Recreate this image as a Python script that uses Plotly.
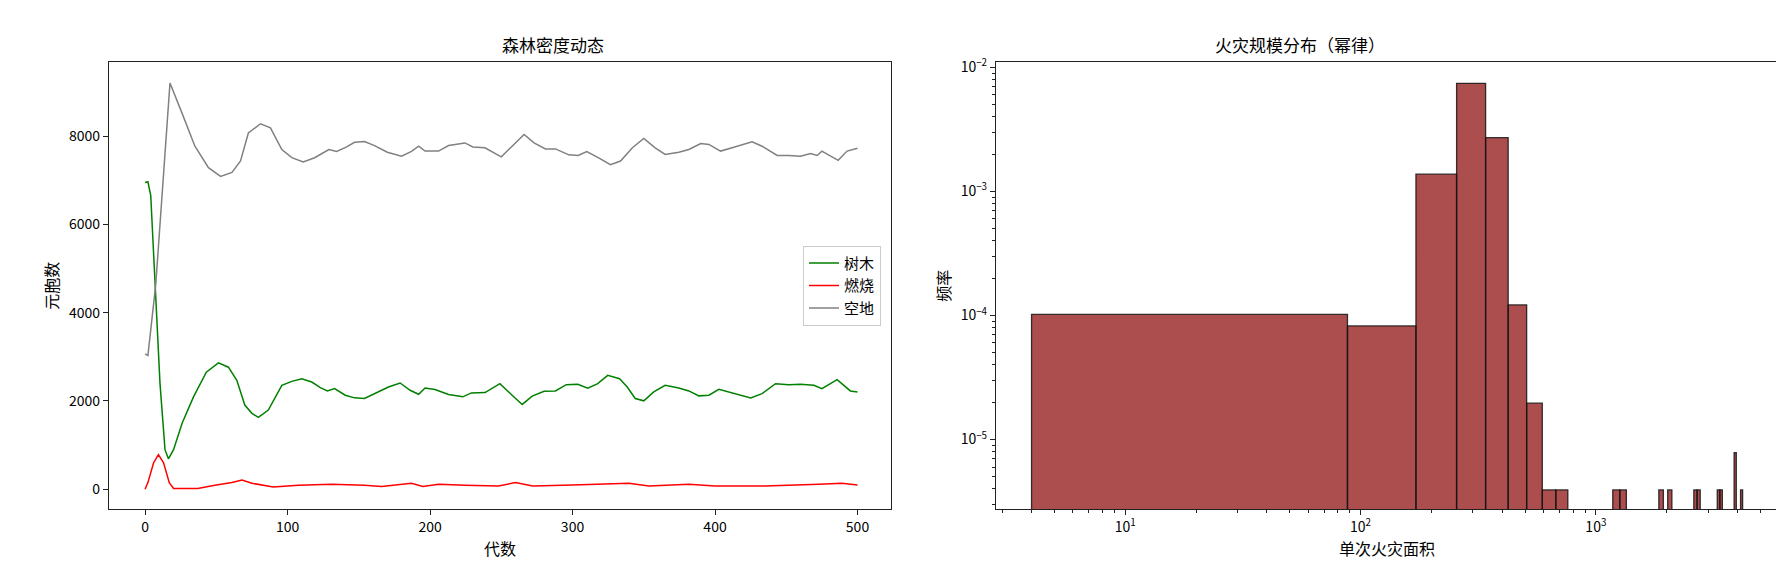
import plotly.graph_objects as go

# ---- left panel: cell counts per generation ----
tree_gen = [0, 2, 4, 7, 10.5, 14, 16.4, 20, 26, 34, 43, 51.5, 58.5, 64.4, 70, 75, 79.5, 86.5, 96, 103, 110, 117, 123, 128,
            133, 140.5, 147, 154, 163.7, 170.8, 179, 186, 192, 196.5, 203.5, 213, 223, 229, 238.6, 249, 257.6, 264.7,
            271.7, 280, 288, 295.6, 303.7, 310.7, 317.7, 324.7, 333, 338.4, 344, 350, 357, 365, 374.6, 381.6, 388.7,
            395.7, 402.7, 409.7, 416.7, 425, 433, 442.5, 451.8, 460, 469.4, 475, 485.7, 495, 500]
tree_val = [6954, 6970, 6655, 4636, 2393, 897, 688, 897, 1495, 2094, 2654, 2864, 2766, 2467, 1907, 1720, 1630, 1794, 2355,
            2445, 2505, 2430, 2303, 2228, 2280, 2131, 2071, 2056, 2206, 2318, 2408, 2243, 2153, 2295, 2258, 2146, 2094,
            2183, 2191, 2393, 2131, 1922, 2109, 2221, 2228, 2370, 2378, 2288, 2393, 2580, 2505, 2318, 2056, 2004, 2206,
            2355, 2295, 2228, 2116, 2131, 2266, 2206, 2153, 2071, 2168, 2393, 2370, 2378, 2355, 2280, 2482, 2228, 2206]

fire_gen = [0, 2, 6, 9.4, 13, 17, 20, 37, 49, 61, 68, 75, 90, 107.6, 131, 154, 166, 187, 195, 206, 224.5, 248, 260, 272,
            300, 339.5, 353.6, 381.6, 400, 435, 473, 489, 500]
fire_val = [0, 150, 600, 785, 600, 150, 15, 15, 90, 150, 210, 135, 52, 90, 112, 90, 60, 135, 60, 112, 90, 75, 150, 75,
            97, 135, 75, 112, 75, 75, 112, 135, 97]

empty_gen = [0, 2, 7.5, 17.5, 26, 35, 44.5, 53, 61, 67, 72.5, 81, 88, 96, 103, 111, 119, 129, 134.5, 141.5, 147, 154, 161,
             170, 180, 187, 192, 196.5, 206, 213, 224.5, 230, 238.5, 250, 257.6, 266, 273, 281, 288, 297.4, 304, 310,
             318, 326.6, 333.7, 342, 350, 358, 365, 374.6, 381.6, 390, 395.7, 403.9, 412, 426, 433, 443.6, 451.8, 460,
             467, 471.7, 475, 481, 486.4, 492.7, 500]
empty_val = [3066, 3030, 4636, 9210, 8520, 7776, 7290, 7090, 7180, 7440, 8075, 8285, 8190, 7700, 7515, 7420, 7515, 7700,
             7655, 7760, 7865, 7880, 7790, 7640, 7550, 7660, 7775, 7665, 7665, 7790, 7850, 7760, 7740, 7535, 7775, 8040,
             7850, 7715, 7715, 7580, 7565, 7655, 7515, 7357, 7440, 7740, 7950, 7740, 7590, 7640, 7700, 7835, 7815, 7665,
             7740, 7875, 7775, 7565, 7565, 7550, 7610, 7565, 7665, 7550, 7455, 7665, 7730]

# ---- right panel: fire size histogram, 50 linear bins of width 84 from 4 ----
bin_start = 4
bin_width = 84
bin_counts = [26, 21, 351, 1896, 692, 31, 5, 1, 1, 0, 0, 0, 0, 0, 1, 1, 0, 0, 0, 0, 0, 0, 1, 0, 1, 0, 0, 0, 0, 0, 0, 1, 1,
              0, 0, 0, 0, 0, 0, 1, 1, 0, 0, 0, 0, 0, 2, 0, 0, 1]

total = sum(bin_counts)
hx, hy = [], []
for i, c in enumerate(bin_counts):
    if c == 0:
        continue
    lo = bin_start + i * bin_width
    hi = lo + bin_width
    d = c / (total * bin_width)
    hx += [lo, lo, hi, hi, lo, None]
    hy += [1e-7, d, d, 1e-7, 1e-7, None]

# minor tick positions for the log axes
x_minor = [m * 10 ** e for e in range(0, 4) for m in range(2, 10)]
y_minor = [m * 10.0 ** e for e in range(-6, -1) for m in range(2, 10)]

FONT = "Noto Sans CJK SC"
fig = go.Figure()
fig.add_trace(go.Scatter(x=tree_gen, y=tree_val, mode="lines", name="树木", line=dict(color="green", width=1.5)))
fig.add_trace(go.Scatter(x=fire_gen, y=fire_val, mode="lines", name="燃烧", line=dict(color="red", width=1.5)))
fig.add_trace(go.Scatter(x=empty_gen, y=empty_val, mode="lines", name="空地", line=dict(color="gray", width=1.5)))
fig.add_trace(go.Scatter(x=hx, y=hy, mode="lines", fill="toself", fillcolor="rgb(172,77,78)",
                         line=dict(color="rgba(20,20,20,0.85)", width=1.3), showlegend=False, xaxis="x2", yaxis="y2"))

axis_common = dict(showline=True, mirror=True, linecolor="#222", linewidth=1.3, ticks="outside", ticklen=5,
                   tickcolor="#222", showgrid=False, zeroline=False, tickfont=dict(size=14, color="black"))

fig.update_layout(
    width=1784, height=581, margin=dict(l=0, r=0, t=0, b=0),
    plot_bgcolor="white", paper_bgcolor="white",
    font=dict(family=FONT, color="black"),
    xaxis=dict(domain=[101 / 1784, 883 / 1784], range=[-25.3, 523.5], tickvals=[0, 100, 200, 300, 400, 500],
               title=dict(text="代数", font=dict(size=16), standoff=8), **axis_common),
    yaxis=dict(domain=[1 - 500 / 581, 1 - 48 / 581], range=[-448, 9675], tickvals=[0, 2000, 4000, 6000, 8000],
               title=dict(text="元胞数", font=dict(size=16), standoff=6), **axis_common),
    xaxis2=dict(domain=[988 / 1784, 1770 / 1784], type="log", range=[0.451, 3.774], anchor="y2",
                tickvals=[10, 100, 1000], ticktext=["10<sup>1</sup>", "10<sup>2</sup>", "10<sup>3</sup>"],
                minor=dict(tickvals=x_minor, ticks="outside", ticklen=3, tickcolor="#222", showgrid=False),
                title=dict(text="单次火灾面积", font=dict(size=16), standoff=8), **axis_common),
    yaxis2=dict(domain=[1 - 500 / 581, 1 - 48 / 581], type="log", range=[-5.56, -1.96], anchor="x2",
                tickvals=[1e-2, 1e-3, 1e-4, 1e-5],
                ticktext=["10<sup>−2</sup>", "10<sup>−3</sup>", "10<sup>−4</sup>", "10<sup>−5</sup>"],
                minor=dict(tickvals=y_minor, ticks="outside", ticklen=3, tickcolor="#222", showgrid=False),
                title=dict(text="频率", font=dict(size=16), standoff=6), **axis_common),
    legend=dict(x=873 / 1784, y=1 - 274 / 581, xanchor="right", yanchor="middle", bgcolor="white",
                bordercolor="#ccc", borderwidth=1, font=dict(size=15)),
    annotations=[
        dict(text="森林密度动态", x=(101 + 883) / 2 / 1784, y=1 - 30 / 581, xref="paper", yref="paper",
             showarrow=False, font=dict(size=17), yanchor="middle"),
        dict(text="火灾规模分布（幂律）", x=(988 + 1770) / 2 / 1784, y=1 - 30 / 581, xref="paper", yref="paper",
             showarrow=False, font=dict(size=17), yanchor="middle"),
    ],
)

fig.write_html("out.html")
